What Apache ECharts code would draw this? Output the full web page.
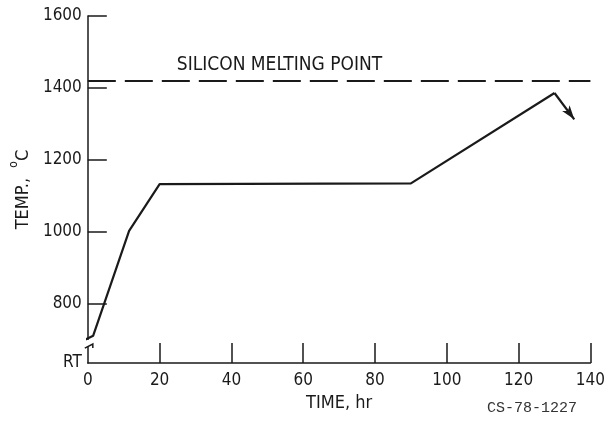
<!DOCTYPE html>
<html>
<head>
<meta charset="utf-8">
<script src="https://cdn.jsdelivr.net/npm/echarts@6/dist/echarts.min.js"></script>
<style>
html,body{margin:0;padding:0;background:#fff;}
#c{width:608px;height:422px;}
</style>
</head>
<body>
<div id="c"></div>
<script>
// ---- data ----
var timeHr = [-1.5, 1.5, 11.5, 20, 90, 130];
var tempC = [697, 712, 1003, 1133, 1135, 1386];
var arrowEnd = [135.5, 1313];
var meltingPoint = 1420;
var meltingLabel = 'SILICON MELTING POINT';
var xTicks = [0, 20, 40, 60, 80, 100, 120, 140];
var yTicks = [800, 1000, 1200, 1400, 1600];
var yBottom = 636;           // room temperature end of the broken axis
var yBottomLabel = 'RT';
var xName = 'TIME, hr';
var figId = 'CS-78-1227';

var FONT = "'Liberation Sans Narrow', 'DejaVu Sans Condensed', 'Roboto Condensed', sans-serif";
var INK = '#1a1a1a';

var chart = echarts.init(document.getElementById('c'), null, {renderer: 'canvas'});

var pts = timeHr.map(function (t, i) { return [t, tempC[i]]; });
var peak = pts[pts.length - 1];

chart.setOption({
  animation: false,
  backgroundColor: '#fff',
  grid: {left: 86, right: 16, top: 16, bottom: 59, containLabel: false},
  title: {
    text: figId, right: 26, bottom: 1,
    textStyle: {fontFamily: "'Liberation Mono','DejaVu Sans Mono',monospace", fontSize: 15, fontWeight: 'normal', color: '#333'}
  },
  xAxis: {
    type: 'value', min: 0, max: 140, interval: 20,
    name: xName, nameLocation: 'middle', nameGap: 30,
    nameTextStyle: {fontFamily: FONT, fontSize: 18, color: INK},
    axisLine: {show: true, lineStyle: {color: INK, width: 1.5}},
    axisTick: {show: true, inside: true, length: 20, lineStyle: {color: INK, width: 1.5},
      customValues: xTicks.slice(1)},
    axisLabel: {fontFamily: FONT, fontSize: 17, color: INK, margin: 9, customValues: xTicks},
    splitLine: {show: false}
  },
  yAxis: {
    type: 'value', min: yBottom, max: 1600,
    name: '{t|TEMP.,  }{s|o}{t|C}', nameLocation: 'middle', nameGap: 52, nameRotate: 90,
    nameTextStyle: {
      fontFamily: FONT, fontSize: 18, color: INK,
      rich: {
        t: {fontFamily: FONT, fontSize: 18, color: INK, lineHeight: 24, verticalAlign: 'bottom'},
        s: {fontFamily: FONT, fontSize: 12, color: INK, lineHeight: 24, verticalAlign: 'top'}
      }
    },
    axisLine: {show: true, lineStyle: {color: INK, width: 1.5}},
    axisTick: {show: true, inside: true, length: 19, lineStyle: {color: INK, width: 1.5},
      customValues: yTicks},
    axisLabel: {
      fontFamily: FONT, fontSize: 17, color: INK, margin: 6,
      customValues: [yBottom].concat(yTicks),
      formatter: function (v) { return v === yBottom ? yBottomLabel : String(v); }
    },
    splitLine: {show: false}
  },
  series: [{
    type: 'line',
    data: pts,
    clip: false,
    symbol: 'none',
    lineStyle: {color: INK, width: 2.2},
    markLine: {
      silent: true,
      symbol: ['none', 'none'],
      data: [
        [
          {coord: [0, meltingPoint], lineStyle: {type: [28, 9], color: INK, width: 2},
           label: {show: true, position: 'insideStartTop', formatter: meltingLabel,
             distance: [89, 6], fontFamily: FONT, fontSize: 19, color: INK}},
          {coord: [140, meltingPoint]}
        ],
        [
          {coord: peak, symbol: 'none', lineStyle: {type: 'solid', color: INK, width: 2.2}, label: {show: false}},
          {coord: arrowEnd, symbol: 'arrow', symbolSize: [7, 14]}
        ]
      ]
    }
  }]
});

// axis break marks on the temperature axis near the RT end
function drawBreak() {
  var a = chart.convertToPixel({gridIndex: 0}, [0, 700]);
  var b = chart.convertToPixel({gridIndex: 0}, [0, 683]);
  chart.setOption({
    graphic: [
      {type: 'rect', z: 1, silent: true,
       shape: {x: a[0] - 3, y: a[1], width: 6, height: b[1] - a[1]},
       style: {fill: '#fff'}},
      {type: 'polyline', z: 3, silent: true,
       shape: {points: [[b[0] - 3, b[1] + 2], [b[0] + 5, b[1] - 2], [b[0] + 5, b[1] + 2]]},
       style: {stroke: INK, lineWidth: 1.5, fill: null}}
    ]
  });
}
drawBreak();
</script>
</body>
</html>
